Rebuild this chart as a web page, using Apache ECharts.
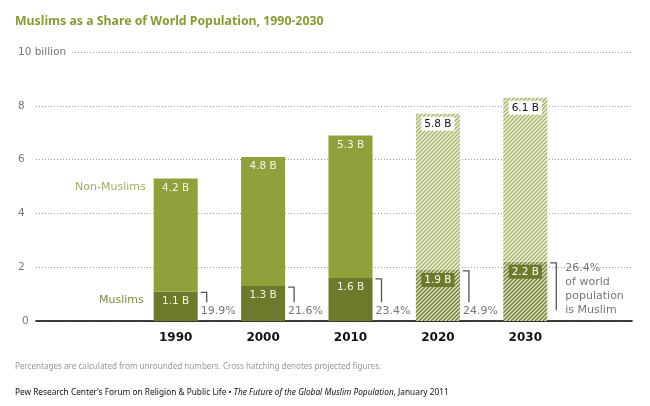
<!DOCTYPE html>
<html><head><meta charset="utf-8">
<script src="https://cdn.jsdelivr.net/npm/echarts@6/dist/echarts.min.js"></script>
<style>html,body{margin:0;padding:0;background:#fff}#c{width:650px;height:406px}</style>
</head><body><div id="c"></div>
<script>
var years = ['1990','2000','2010','2020','2030'];
var muslims = [1.1, 1.3, 1.6, 1.9, 2.2];
var nonMuslims = [4.2, 4.8, 5.3, 5.8, 6.1];
var shares = ['19.9%','21.6%','23.4%','24.9%','26.4%'];
var projected = [false,false,false,true,true];

var FONT = 'DejaVu Sans';
var NFONT = 'Noto Sans';
var LIGHT = '#8fa13b', DARK = '#6b7a2b';

function hatch(bg, fg){
  var c = document.createElement('canvas'); c.width = 4; c.height = 4;
  var x = c.getContext('2d');
  x.fillStyle = bg; x.fillRect(0,0,4,4);
  x.strokeStyle = fg; x.lineWidth = 1.4;
  x.beginPath();
  x.moveTo(-1,5); x.lineTo(5,-1);
  x.moveTo(-1,1); x.lineTo(1,-1);
  x.moveTo(3,5); x.lineTo(5,3);
  x.stroke();
  return {image:c, repeat:'repeat'};
}
var hatchLight = hatch('#eef2dc', '#a7b56a');
var hatchDark = hatch('#dfe5c4', '#6f7e35');

var chart = echarts.init(document.getElementById('c'), null, {renderer:'canvas'});

var muslimData = muslims.map(function(v,i){
  var d = {value:v};
  if (projected[i]) {
    d.itemStyle = {color: hatchDark};
    d.label = {backgroundColor: DARK, color:'#fff', padding:[2,3,1,3], distance:3};
  }
  return d;
});
var nonData = nonMuslims.map(function(v,i){
  var d = {value:v};
  if (projected[i]) {
    d.itemStyle = {color: hatchLight};
    d.label = {backgroundColor:'#fff', color:'#111', padding:[2,3,1,3], distance:3};
  }
  return d;
});

chart.setOption({
  animation:false,
  title:[
    {text:'Muslims as a Share of World Population, 1990-2030', left:10, top:10,
     textStyle:{fontFamily:NFONT, fontSize:12.3, fontWeight:'bold', color:'#8b9b33'}},
    {text:'Percentages are calculated from unrounded numbers. Cross hatching denotes projected figures.', left:10, top:358,
     textStyle:{fontFamily:NFONT, fontSize:8.1, fontWeight:'normal', color:'#999'}},
    {text:'{n|Pew Research Center\u2019s Forum on Religion & Public Life \u2022 }{i|The Future of the Global Muslim Population}{n|, January 2011}', left:10, top:384,
     textStyle:{fontWeight:'normal', rich:{
       n:{fontFamily:NFONT, fontSize:8.3, color:'#111', fontWeight:'normal'},
       i:{fontFamily:NFONT, fontSize:8.3, color:'#111', fontStyle:'italic', fontWeight:'normal'}}}}
  ],
  grid:[
    {left:36, right:18, top:52, bottom:85},
    {left:132, right:81, top:52, bottom:85}
  ],
  xAxis:[
    {type:'value', gridIndex:0, min:0, max:1, show:true,
     axisLine:{show:true, lineStyle:{color:'#000', width:1.6}},
     axisTick:{show:false}, axisLabel:{show:false}, splitLine:{show:false}},
    {type:'category', gridIndex:1, data:years,
     axisLine:{show:false}, axisTick:{show:false},
     axisLabel:{margin:11, fontFamily:FONT, fontSize:12, fontWeight:'bold', color:'#111'}}
  ],
  yAxis:[
    {type:'value', gridIndex:0, min:0, max:10, interval:2,
     axisLine:{show:false}, axisTick:{show:false},
     splitLine:{show:true, lineStyle:{color:'#9a9a9a', type:[1,2], width:1}},
     axisLabel:{align:'left', margin:18, fontFamily:FONT, fontSize:10.5, color:'#777',
       formatter:function(v){ return v===10 ? '{b|10 billion}' : (v===0 ? '{z|0}' : String(v)); },
       rich:{b:{fontFamily:FONT, fontSize:10.5, color:'#777', backgroundColor:'#fff', padding:[1,5,1,0]},
             z:{fontFamily:FONT, fontSize:10.5, color:'#777', padding:[0,0,0,4]}}}},
    {type:'value', gridIndex:1, min:0, max:10, show:false}
  ],
  series:[
    {name:'Muslims', type:'bar', stack:'pop', xAxisIndex:1, yAxisIndex:1, barWidth:44,
     itemStyle:{color:DARK}, data:muslimData,
     label:{show:true, position:'insideTop', distance:4, color:'#f4f6e6', fontFamily:FONT, fontSize:10.5,
       formatter:function(p){return p.value.toFixed(1)+' B';}}},
    {name:'Non-Muslims', type:'bar', stack:'pop', xAxisIndex:1, yAxisIndex:1, barWidth:44,
     itemStyle:{color:LIGHT}, data:nonData,
     label:{show:true, position:'insideTop', distance:4, color:'#f4f6e6', fontFamily:FONT, fontSize:10.5,
       formatter:function(p){return p.value.toFixed(1)+' B';}}},
    {name:'brackets', type:'custom', xAxisIndex:1, yAxisIndex:1, z:5,
     data: muslims.map(function(v,i){return [i, v, v + nonMuslims[i]];}),
     renderItem:function(params, api){
       var i = api.value(0);
       var top = api.coord([i, api.value(1)]);
       var tot = api.coord([i, api.value(2)]);
       var last = (i === years.length-1);
       var bottom = api.coord([i, last ? 0.4 : 0.7]);
       var cx = top[0];
       var x0 = cx + 25, x1 = cx + 31;
       var kids = [
         {type:'polyline', shape:{points:[[x0, top[1]+1],[x1, top[1]+1],[x1, bottom[1]]]},
          style:{stroke:'#555', lineWidth:1.3, fill:null}}
       ];
       if (last) {
         kids.push({type:'text', x:x1+9, y:top[1]-1, style:{
           text: shares[i] + '\nof world\npopulation\nis Muslim', fill:'#777',
           font:'11px "'+FONT+'"', lineHeight:14, textVerticalAlign:'top', textAlign:'left'}});
       } else {
         kids.push({type:'text', x:x0, y:api.coord([i,0.37])[1], style:{
           text: shares[i], fill:'#777', font:'11px "'+FONT+'"',
           textVerticalAlign:'middle', textAlign:'left'}});
       }
       if (i === 0) {
         kids.push({type:'text', x:cx-30, y:tot[1]+9, style:{text:'Non-Muslims', fill:'#a2ae62',
           font:'11px "'+FONT+'"', textAlign:'right', textVerticalAlign:'middle'}});
         kids.push({type:'text', x:cx-32, y:top[1]+9, style:{text:'Muslims', fill:'#7d8a42',
           font:'11px "'+FONT+'"', textAlign:'right', textVerticalAlign:'middle'}});
       }
       return {type:'group', children:kids};
     }}
  ]
});
</script></body></html>
